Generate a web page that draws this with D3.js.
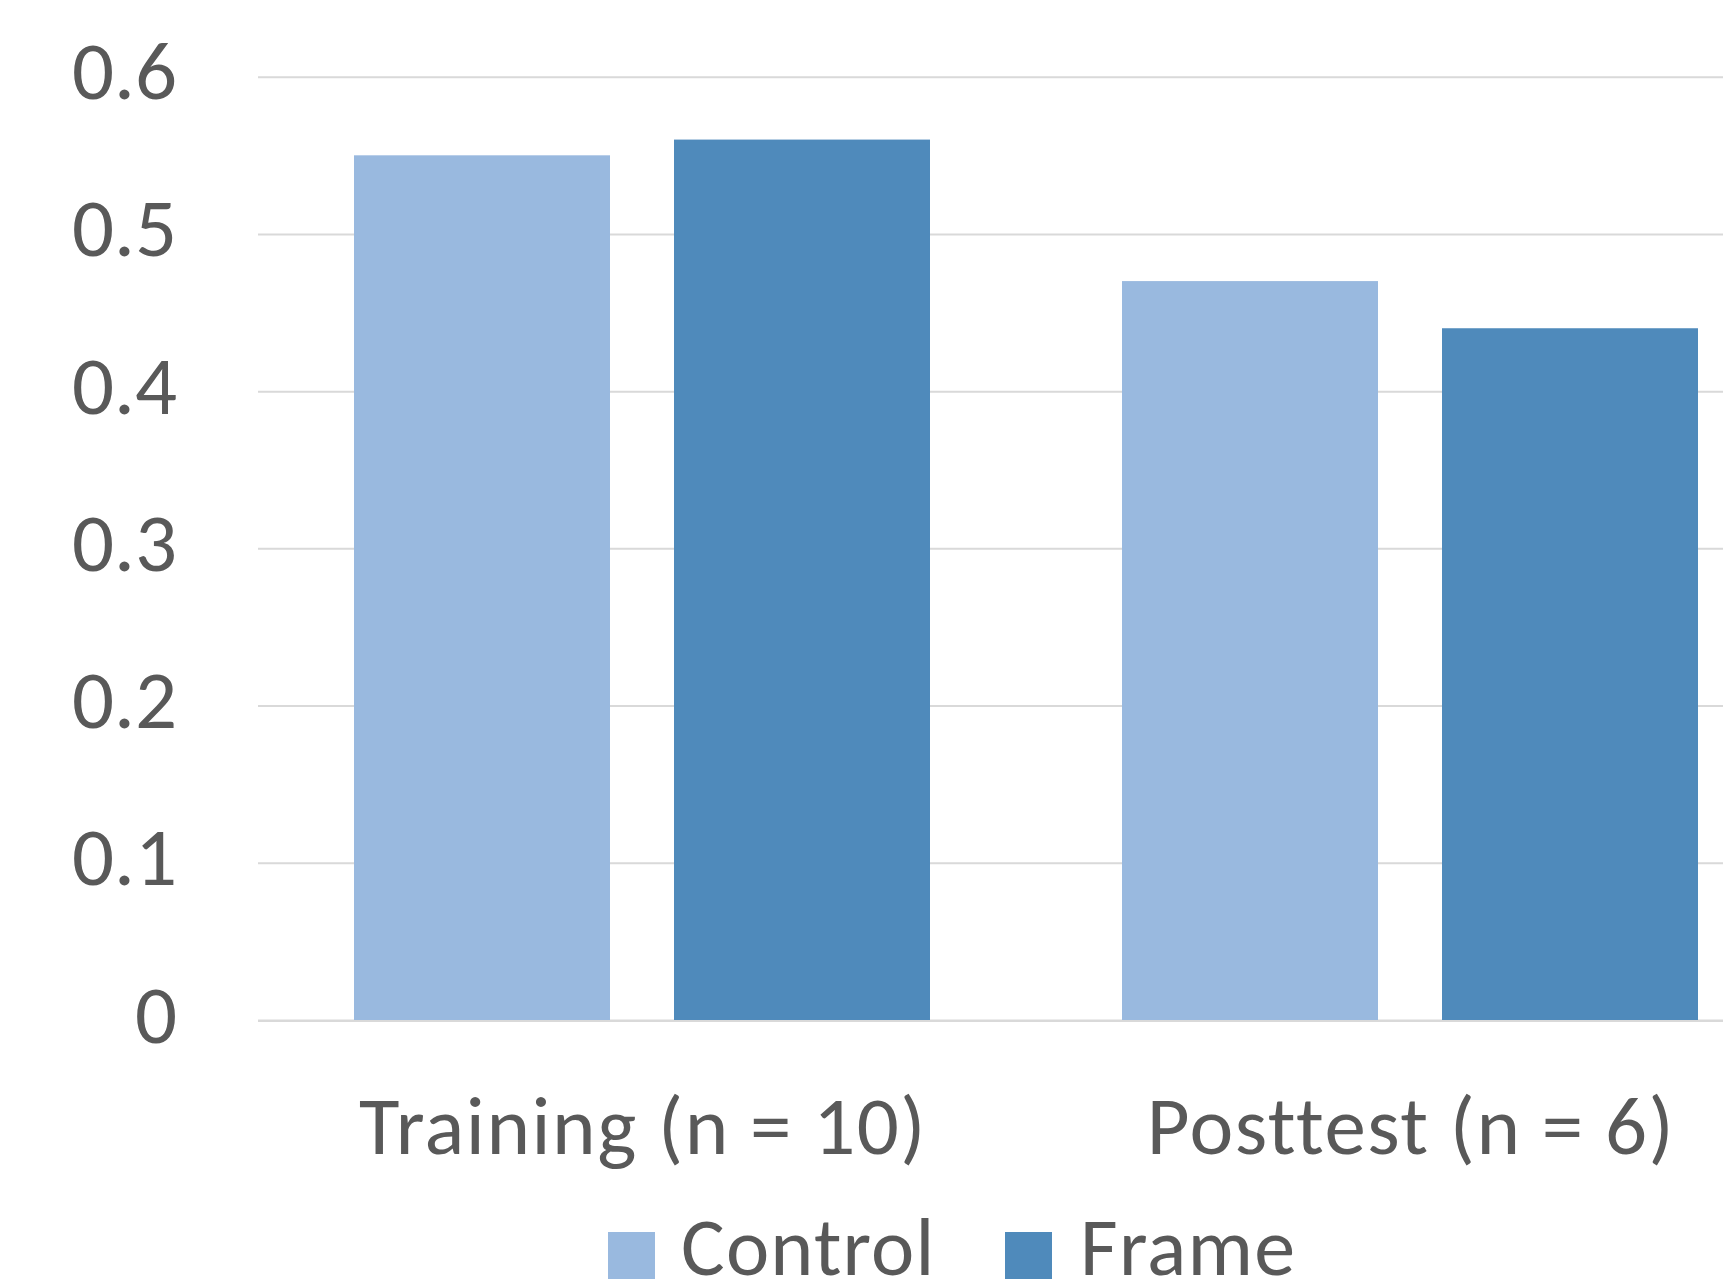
<!DOCTYPE html>
<html>
<head>
<meta charset="utf-8">
<script src="https://cdn.jsdelivr.net/npm/d3@7"></script>
<style>
  html, body { margin: 0; padding: 0; background: #ffffff; }
  svg { display: block; }
  text { font-family: Carlito, Calibri, Lato, "Open Sans", sans-serif; fill: #595959; }
</style>
</head>
<body>
<svg id="chart" width="1723" height="1286"></svg>
<script>
// ---- data ----
const categories = ["Training (n = 10)", "Posttest (n = 6)"];
const seriesNames = ["Control", "Frame"];
const controlValues = [0.55, 0.47];
const frameValues = [0.56, 0.44];
const tickValues = [0, 0.1, 0.2, 0.3, 0.4, 0.5, 0.6];
const tickLabels = ["0", "0.1", "0.2", "0.3", "0.4", "0.5", "0.6"];
const seriesColors = ["#99B9DF", "#4F8ABB"];

// ---- layout ----
const W = 1723, H = 1286;
const plotLeft = 258, plotRight = 1794, plotTop = 76.7, plotBottom = 1020;
const svg = d3.select("#chart");

const x0 = d3.scaleBand().domain(categories).range([plotLeft, plotRight])
  .paddingInner(0.25).paddingOuter(0.125);
const x1 = d3.scaleBand().domain(seriesNames).range([0, x0.bandwidth()])
  .paddingInner(0.2).paddingOuter(0);
const y = d3.scaleLinear().domain([0, 0.6]).range([plotBottom, plotTop]);
const color = d3.scaleOrdinal().domain(seriesNames).range(seriesColors);

const rows = categories.map((c, i) => ({
  cat: c,
  values: [
    { name: "Control", value: controlValues[i] },
    { name: "Frame", value: frameValues[i] }
  ]
}));

// y axis with gridlines
const yAxis = d3.axisLeft(y)
  .tickValues(tickValues)
  .tickFormat((d, i) => tickLabels[i])
  .tickSizeInner(-(plotRight - plotLeft))
  .tickSizeOuter(0)
  .tickPadding(81);

const gy = svg.append("g")
  .attr("transform", `translate(${plotLeft},0)`)
  .call(yAxis);
gy.select(".domain").remove();
gy.selectAll(".tick line").attr("stroke", "#D9D9D9").attr("stroke-width", 2);
gy.selectAll(".tick text")
  .attr("dy", null)
  .attr("y", 22)
  .style("font-size", "83px")
  .attr("fill", "#595959");

// bars
const groups = svg.append("g").selectAll("g")
  .data(rows).join("g")
  .attr("transform", d => `translate(${x0(d.cat)},0)`);
groups.selectAll("rect")
  .data(d => d.values).join("rect")
  .attr("x", d => x1(d.name))
  .attr("width", x1.bandwidth())
  .attr("y", d => y(d.value))
  .attr("height", d => y(0) - y(d.value))
  .attr("fill", d => color(d.name));

// category axis line
svg.append("line")
  .attr("x1", plotLeft).attr("x2", plotRight)
  .attr("y1", y(0) + 1).attr("y2", y(0) + 1)
  .attr("stroke", "#D9D9D9").attr("stroke-width", 2);

// x axis labels
const xAxis = d3.axisBottom(x0).tickSize(0).tickPadding(0);
const gx = svg.append("g")
  .attr("transform", `translate(0,${plotBottom})`)
  .call(xAxis);
gx.select(".domain").remove();
gx.selectAll(".tick text")
  .attr("dy", null)
  .attr("y", 134)
  .attr("x", 1)
  .style("font-size", "83px")
  .style("letter-spacing", "1.5px")
  .attr("fill", "#595959");

// legend
const legendItems = [
  { name: seriesNames[0], sx: 608, tx: 681 },
  { name: seriesNames[1], sx: 1005, tx: 1080 }
];
const lg = svg.append("g");
const li = lg.selectAll("g").data(legendItems).join("g");
li.append("rect")
  .attr("x", d => d.sx).attr("y", 1232)
  .attr("width", 47).attr("height", 47)
  .attr("fill", d => color(d.name));
li.append("text")
  .attr("x", d => d.tx).attr("y", 1275)
  .style("font-size", "82px")
  .style("letter-spacing", "1.2px")
  .text(d => d.name);
</script>
</body>
</html>
